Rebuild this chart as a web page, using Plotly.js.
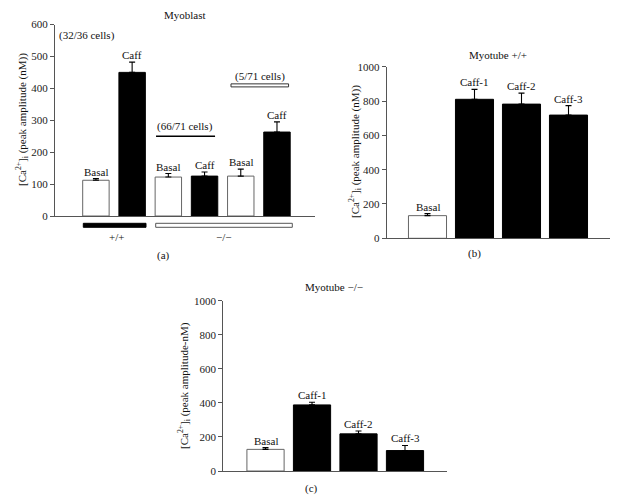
<!DOCTYPE html>
<html>
<head>
<meta charset="utf-8">
<script src="https://cdn.plot.ly/plotly-3.0.1.min.js"></script>
<style>html,body{margin:0;padding:0;background:#fff;}#chart{width:624px;height:501px;}</style>
</head>
<body>
<div id="chart"></div>
<script>
// ---- Data ----
const aLabels = ['Basal', 'Caff', 'Basal', 'Caff', 'Basal', 'Caff'];
const aMeans  = [112, 450, 122, 125, 125, 263];
const aErrs   = [5, 32, 11, 13, 22, 32];

const bLabels = ['Basal', 'Caff-1', 'Caff-2', 'Caff-3'];
const bMeans  = [132, 810, 782, 718];
const bErrs   = [12, 58, 64, 55];

const cLabels = ['Basal', 'Caff-1', 'Caff-2', 'Caff-3'];
const cMeans  = [127, 388, 218, 120];
const cErrs   = [10, 16, 17, 30];

const aTicks = [0, 100, 200, 300, 400, 500, 600];
const bcTicks = [0, 200, 400, 600, 800, 1000];

const titleA = 'Myoblast';
const titleB = 'Myotube +/+';
const titleC = 'Myotube \u2212/\u2212';
const yTitleAB = '[Ca<sup>2+</sup>]<sub>i</sub> (peak amplitude (nM))';
const yTitleC = '[Ca<sup>2+</sup>]<sub>i</sub> (peak amplitude-nM)';

// ---- Styling ----
const FONT = 'Liberation Serif';
const FS = 11;
const AXC = '#555';

function fillFor(lbl) { return lbl.startsWith('Basal') ? '#ffffff' : '#000000'; }
function lineFor(lbl) { return lbl.startsWith('Basal') ? '#666666' : '#000000'; }

function barTrace(labels, means, errs, xa, ya, width) {
  return {
    type: 'bar',
    x: labels.map((_, i) => i),
    y: means,
    width: width,
    xaxis: xa, yaxis: ya,
    marker: { color: labels.map(fillFor), line: { color: labels.map(lineFor), width: 1 } },
    error_y: { type: 'data', symmetric: false, array: errs, arrayminus: errs.map(() => 0),
               color: '#000', thickness: 1.1, width: 3 },
    hoverinfo: 'none', showlegend: false
  };
}

function barLabels(labels, means, errs, xa, ya) {
  return labels.map((l, i) => ({
    text: l, x: i, y: means[i] + errs[i], xref: xa, yref: ya,
    xanchor: 'center', yanchor: 'bottom', yshift: -1, showarrow: false,
    font: { family: FONT, size: FS, color: '#111' }
  }));
}

function yAxis(domain, range, ticks) {
  return {
    domain: domain, range: range, tickvals: ticks, ticktext: ticks.map(String),
    showline: true, linecolor: AXC, linewidth: 1, ticks: 'outside', ticklen: 4,
    tickcolor: AXC, tickwidth: 1, showgrid: false, zeroline: false,
    tickfont: { family: FONT, size: FS, color: '#222' }, fixedrange: true
  };
}
function xAxis(domain, range, anchor) {
  return {
    domain: domain, range: range, anchor: anchor,
    showline: true, linecolor: AXC, linewidth: 1, ticks: '', showticklabels: false,
    showgrid: false, zeroline: false, fixedrange: true
  };
}

const data = [
  barTrace(aLabels, aMeans, aErrs, 'x', 'y', 0.73),
  barTrace(bLabels, bMeans, bErrs, 'x2', 'y2', 0.81),
  barTrace(cLabels, cMeans, cErrs, 'x3', 'y3', 0.8)
];

const txt = (t, x, y, extra) => Object.assign({
  text: t, x: x, y: y, xref: 'paper', yref: 'paper', showarrow: false,
  xanchor: 'center', yanchor: 'middle', font: { family: FONT, size: FS, color: '#111' }
}, extra || {});

const annotations = []
  .concat(barLabels(aLabels, aMeans, aErrs, 'x', 'y'))
  .concat(barLabels(bLabels, bMeans, bErrs, 'x2', 'y2'))
  .concat(barLabels(cLabels, cMeans, cErrs, 'x3', 'y3'))
  .concat([
    txt(titleA, 185/624, 1 - 15/501),
    txt(titleB, 498/624, 1 - 55/501),
    txt(titleC, 334/624, 1 - 287/501),
    txt(yTitleAB, 22/624, 1 - 120/501, { textangle: -90 }),
    txt(yTitleAB, 355/624, 1 - 152/501, { textangle: -90 }),
    txt(yTitleC, 184/624, 1 - 386/501, { textangle: -90 }),
    { text: '(32/36 cells)', x: -0.24, y: 564, xref: 'x', yref: 'y', showarrow: false,
      xanchor: 'center', yanchor: 'middle', font: { family: FONT, size: FS, color: '#111' } },
    { text: '(66/71 cells)', x: 2.46, y: 279, xref: 'x', yref: 'y', showarrow: false,
      xanchor: 'center', yanchor: 'middle', font: { family: FONT, size: FS, color: '#111' } },
    { text: '(5/71 cells)', x: 4.52, y: 438, xref: 'x', yref: 'y', showarrow: false,
      xanchor: 'center', yanchor: 'middle', font: { family: FONT, size: FS, color: '#111' } },
    txt('+/+', 116/624, 1 - 237/501),
    txt('\u2212/\u2212', 223/624, 1 - 237/501),
    txt('(a)', 163.7/624, 1 - 255/501),
    txt('(b)', 474/624, 1 - 253/501),
    txt('(c)', 311.7/624, 1 - 488/501)
  ]);

const shapes = [
  { type: 'line', xref: 'x', yref: 'y', x0: 1.66, x1: 3.29, y0: 250, y1: 250,
    line: { color: '#000', width: 1.6 } },
  { type: 'rect', xref: 'x', yref: 'y', x0: 3.73, x1: 5.32, y0: 404.5, y1: 414,
    fillcolor: '#fff', line: { color: '#333', width: 1 } },
  { type: 'rect', xref: 'paper', yref: 'paper', x0: 83.3/624, x1: 146/624,
    y0: 1 - 227.3/501, y1: 1 - 223.3/501, fillcolor: '#000', line: { color: '#000', width: 1 } },
  { type: 'rect', xref: 'paper', yref: 'paper', x0: 155.7/624, x1: 292.3/624,
    y0: 1 - 227.3/501, y1: 1 - 223.3/501, fillcolor: '#fff', line: { color: '#555', width: 1 } }
];

const layout = {
  width: 624, height: 501,
  margin: { l: 0, r: 0, t: 0, b: 0 },
  paper_bgcolor: '#fff', plot_bgcolor: 'rgba(0,0,0,0)',
  font: { family: FONT, size: FS, color: '#111' },
  showlegend: false,
  bargap: 0,
  xaxis:  xAxis([55/624, 315/624], [-1.13, 6.05], 'y'),
  yaxis:  yAxis([1 - 216/501, 1 - 24.5/501], [0, 600], aTicks),
  xaxis2: xAxis([386.7/624, 610/624], [-0.868, 3.883], 'y2'),
  yaxis2: Object.assign(yAxis([1 - 238.3/501, 1 - 66.7/501], [0, 1000], bcTicks), { anchor: 'x2' }),
  xaxis3: xAxis([223.3/624, 446.7/624], [-0.908, 3.897], 'y3'),
  yaxis3: Object.assign(yAxis([1 - 471/501, 1 - 300.7/501], [0, 1000], bcTicks), { anchor: 'x3' }),
  annotations: annotations,
  shapes: shapes
};
layout.yaxis.anchor = 'x';

Plotly.newPlot('chart', data, layout, { staticPlot: true, displayModeBar: false });
</script>
</body>
</html>
